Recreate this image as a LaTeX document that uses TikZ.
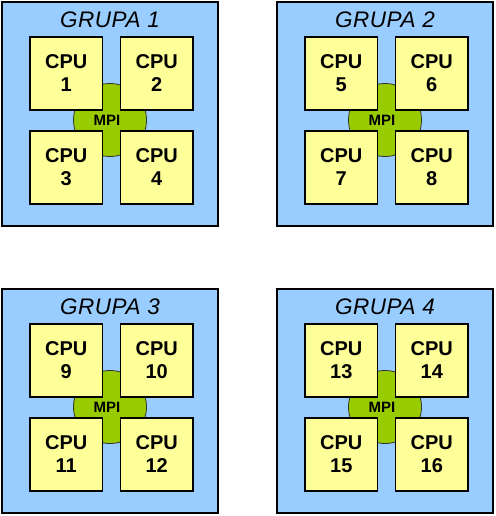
\documentclass[tikz,border=0pt]{standalone}
\usepackage{fontspec}
\setmainfont{Liberation Sans}
\newfontfamily\titlefont[LetterSpace=2.5]{Liberation Sans}
\definecolor{grpblue}{HTML}{99CCFF}
\definecolor{cpuyel}{HTML}{FFFF99}
\definecolor{mpigreen}{HTML}{99CC00}
\tikzset{
 grupabox/.style={draw=black, line width=1.6pt, fill=grpblue, outer sep=0pt, inner sep=0pt,
   minimum width=216pt, minimum height=224pt, anchor=north west},
 cpubox/.style={draw=black, line width=1.2pt, fill=cpuyel, minimum width=72.5pt, minimum height=73pt,
   inner sep=0pt, outer sep=0pt, align=center, font=\fontsize{20}{23}\selectfont\bfseries},
 mpicircle/.style={circle, draw=black!80, line width=0.8pt, fill=mpigreen, minimum size=73pt, inner sep=0pt},
 mpilabel/.style={font=\fontsize{15}{15}\selectfont\bfseries, inner sep=0pt},
 titlelabel/.style={font=\titlefont\fontsize{22.5}{22.5}\selectfont\itshape, inner sep=0pt, anchor=base}
}
\begin{document}
\begin{tikzpicture}[x=1pt,y=-1pt]
\useasboundingbox (0,0) rectangle (495,516);
\foreach \g/\dx/\dy/\a/\b/\c/\d in {1/0/0/1/2/3/4, 2/275/0/5/6/7/8, 3/0/287/9/10/11/12, 4/275/287/13/14/15/16}{
 \begin{scope}[shift={(\dx,\dy)}]
  \node[grupabox] (g\g) at (2,2) {};
  \node[titlelabel] (t\g) at (110,27.5) {GRUPA \g};
  \node[mpicircle] (mpi\g) at (110,120) {};
  \node[mpilabel] (mpit\g) at (107,120) {MPI};
  \node[cpubox] (cpu\a) at (66.25,73.5) {CPU\\\a};
  \node[cpubox] (cpu\b) at (156.75,73.5) {CPU\\\b};
  \node[cpubox] (cpu\c) at (66.25,167.5) {CPU\\\c};
  \node[cpubox] (cpu\d) at (156.75,167.5) {CPU\\\d};
 \end{scope}
}
\end{tikzpicture}
\end{document}
